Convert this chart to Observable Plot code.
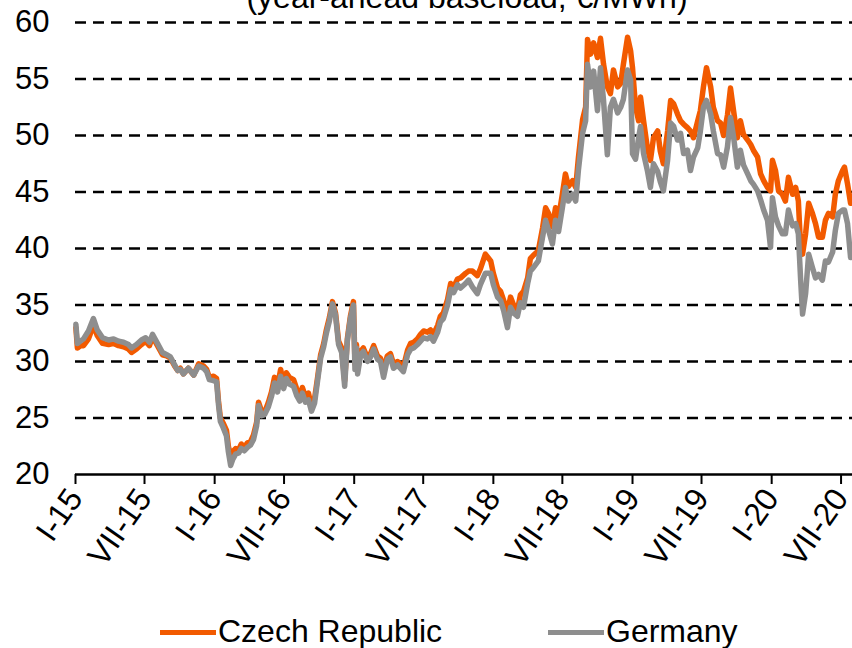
<!DOCTYPE html>
<html>
<head>
<meta charset="utf-8">
<script src="https://cdn.jsdelivr.net/npm/d3@7"></script>
<script src="https://cdn.jsdelivr.net/npm/@observablehq/plot@0.6"></script>
<style>
  html, body { margin: 0; padding: 0; background: #fff; }
  #wrap { position: relative; width: 852px; height: 648px; overflow: hidden; font-family: "Liberation Sans", Arial, sans-serif; color: #000; }
  #title { position: absolute; left: 0; width: 934px; top: -19px; text-align: center; font-size: 32px; line-height: 32px; white-space: nowrap; }
  #chart { position: absolute; left: 0; top: 0; }
  .lg { position: absolute; font-size: 32px; line-height: 32px; white-space: nowrap; }
  .sw { position: absolute; height: 5px; }
</style>
</head>
<body>
<div id="wrap">
  <div id="chart"></div>
  <div id="title">(year-ahead baseload, €/MWh)</div>
  <div id="legend"></div>
</div>
<script>
// ---- data ----
const seriesNames = ["Czech Republic", "Germany"];
const seriesColors = ["#F25A00", "#8E8E8E"];

const dates = [
"2015-01-02","2015-01-06","2015-01-14","2015-01-22","2015-02-04","2015-02-17","2015-02-27","2015-03-13","2015-03-29","2015-04-11",
"2015-04-24","2015-05-07","2015-05-20","2015-05-28","2015-06-10","2015-06-23","2015-07-04","2015-07-14","2015-07-22","2015-08-04",
"2015-08-17","2015-08-28","2015-09-07","2015-09-18","2015-09-26","2015-10-03","2015-10-11","2015-10-24","2015-11-07","2015-11-20",
"2015-12-03","2015-12-11","2015-12-18","2015-12-29","2016-01-06","2016-01-11","2016-01-16","2016-01-24","2016-02-01","2016-02-06",
"2016-02-12","2016-02-17","2016-02-25","2016-03-04","2016-03-11","2016-03-19","2016-03-27","2016-04-04","2016-04-12","2016-04-20",
"2016-04-25","2016-05-03","2016-05-11","2016-05-21","2016-05-29","2016-06-06","2016-06-14","2016-06-22","2016-06-30","2016-07-07",
"2016-07-15","2016-07-26","2016-08-03","2016-08-11","2016-08-18","2016-08-26","2016-09-03","2016-09-11","2016-09-19","2016-09-27",
"2016-10-05","2016-10-13","2016-10-20","2016-10-28","2016-11-05","2016-11-13","2016-11-21","2016-11-29","2016-12-07","2016-12-14",
"2016-12-22","2016-12-30","2017-01-03","2017-01-07","2017-01-10","2017-01-18","2017-01-25","2017-02-05","2017-02-13","2017-02-21",
"2017-03-03","2017-03-11","2017-03-19","2017-03-29","2017-04-06","2017-04-14","2017-04-25","2017-05-02","2017-05-10","2017-05-21",
"2017-05-29","2017-06-06","2017-06-16","2017-06-24","2017-07-02","2017-07-12","2017-07-20","2017-07-28","2017-08-08","2017-08-15",
"2017-08-23","2017-09-03","2017-09-11","2017-09-19","2017-09-29","2017-10-07","2017-10-20","2017-10-28","2017-11-07","2017-11-20",
"2017-11-28","2017-12-11","2017-12-25","2018-01-01","2018-01-12","2018-01-20","2018-01-28","2018-02-07","2018-02-15","2018-02-23",
"2018-03-05","2018-03-13","2018-03-21","2018-04-01","2018-04-08","2018-04-16","2018-04-29","2018-05-10","2018-05-18","2018-05-26",
"2018-06-05","2018-06-13","2018-06-21","2018-07-01","2018-07-09","2018-07-17","2018-07-28","2018-08-05","2018-08-12","2018-08-23",
"2018-08-31","2018-09-05","2018-09-13","2018-09-21","2018-10-01","2018-10-09","2018-10-17","2018-10-27","2018-11-04","2018-11-12",
"2018-11-23","2018-12-01","2018-12-08","2018-12-19","2018-12-27","2019-01-01","2019-01-09","2019-01-17","2019-01-22","2019-01-30",
"2019-02-09","2019-02-17","2019-02-25","2019-03-08","2019-03-15","2019-03-23","2019-04-03","2019-04-11","2019-04-19","2019-04-29",
"2019-05-07","2019-05-15","2019-05-25","2019-06-02","2019-06-10","2019-06-21","2019-06-28","2019-07-06","2019-07-14","2019-07-25",
"2019-08-01","2019-08-12","2019-08-20","2019-08-28","2019-09-07","2019-09-15","2019-09-23","2019-10-03","2019-10-11","2019-10-19",
"2019-10-30","2019-11-07","2019-11-14","2019-11-25","2019-12-03","2019-12-11","2019-12-21","2019-12-29","2020-01-03","2020-01-11",
"2020-01-19","2020-01-29","2020-02-06","2020-02-14","2020-02-25","2020-03-04","2020-03-11","2020-03-17","2020-03-22","2020-03-30",
"2020-04-07","2020-04-17","2020-04-25","2020-05-03","2020-05-13","2020-05-21","2020-05-29","2020-06-09","2020-06-16","2020-06-24",
"2020-07-05","2020-07-10","2020-07-18","2020-07-26"
];

const czechRepublic = [
33.0,31.2,31.4,31.4,32.0,33.2,32.3,31.6,31.5,31.6,
31.4,31.3,31.1,30.8,31.1,31.5,31.8,31.4,32.2,31.4,
30.6,30.5,30.3,29.6,29.2,29.4,28.9,29.4,28.8,29.8,
29.6,29.3,28.6,28.7,28.5,26.5,25.0,24.5,23.9,22.5,
21.6,22.0,22.3,22.2,22.7,22.4,22.8,22.9,23.5,24.6,
26.4,25.6,25.5,26.4,27.3,28.6,27.8,29.3,28.0,29.0,
28.6,28.4,27.6,26.9,27.7,26.9,27.2,26.0,26.7,28.6,
30.6,31.6,32.8,33.9,35.3,34.3,31.8,31.2,28.3,32.0,
34.0,35.3,29.8,31.5,29.3,30.9,31.2,30.3,30.7,31.4,
30.5,30.3,29.3,30.5,30.7,29.8,30.0,29.8,29.5,31.0,
31.6,31.7,32.0,32.4,32.7,32.6,32.8,32.4,33.2,34.0,
34.3,35.5,36.9,36.6,37.3,37.4,37.8,38.0,38.0,37.6,
38.2,39.5,38.9,37.8,36.5,36.2,35.4,34.4,35.7,35.0,
34.5,35.9,36.2,37.4,39.1,39.4,39.8,41.8,43.6,43.1,
41.9,43.6,42.7,44.8,46.6,45.5,46.0,45.4,48.0,51.4,
52.5,58.5,57.2,58.2,56.9,58.6,56.3,54.3,53.7,55.8,
54.3,54.6,56.3,58.7,57.5,56.0,52.5,51.3,53.4,51.3,
48.9,47.8,49.8,50.4,48.6,47.5,50.4,53.1,52.8,51.9,
51.3,51.0,50.7,50.4,49.8,51.3,52.2,54.3,56.0,54.3,
52.5,51.3,51.1,50.0,51.8,54.2,52.2,49.8,51.3,50.1,
49.6,49.2,48.7,48.1,46.6,46.0,45.4,45.1,47.8,46.9,
45.1,44.8,44.2,46.3,44.8,45.4,44.2,40.1,39.5,41.3,
44.0,43.1,42.2,41.0,41.0,42.5,43.1,42.8,44.8,46.0,
46.9,47.2,45.7,44.0
];

const germany = [
33.3,31.6,31.8,32.0,32.7,33.8,32.8,32.1,31.9,32.0,
31.8,31.7,31.5,31.2,31.5,31.9,32.1,31.7,32.4,31.6,
30.8,30.6,30.4,29.7,29.2,29.3,28.9,29.4,28.8,29.6,
29.4,29.1,28.4,28.3,28.2,26.2,24.7,24.1,23.4,22.0,
20.8,21.3,21.8,21.9,22.3,22.1,22.4,22.6,23.1,24.3,
26.1,25.2,25.3,26.0,26.9,28.1,27.3,28.7,27.6,28.5,
28.0,27.8,27.0,26.5,27.2,26.4,26.6,25.6,26.3,28.3,
30.3,31.3,32.5,33.6,35.1,34.1,31.5,30.8,27.8,31.8,
33.8,35.0,29.3,31.2,28.9,30.6,30.9,30.0,30.4,31.1,
30.2,30.0,28.6,30.2,30.4,29.4,29.7,29.4,29.1,30.6,
31.1,31.2,31.5,31.8,32.1,32.0,32.2,31.8,32.6,33.5,
33.8,35.0,36.4,36.1,36.8,36.5,36.9,37.2,36.6,36.0,
36.8,37.8,37.8,36.8,35.7,35.4,34.5,33.0,34.8,34.3,
34.0,35.2,34.8,36.9,38.0,38.3,38.9,41.0,42.5,41.6,
40.4,42.5,41.5,43.6,45.4,44.2,44.8,44.2,46.9,50.2,
51.3,56.3,54.3,55.7,52.2,56.0,53.1,48.3,52.5,53.2,
52.0,52.5,53.2,55.8,54.9,48.4,47.9,49.8,50.8,48.4,
46.9,45.4,47.5,46.8,45.9,45.1,47.8,51.1,50.8,49.6,
50.2,48.4,48.7,46.9,48.1,48.9,50.4,52.5,53.1,51.9,
50.4,48.4,48.3,47.2,49.0,51.6,49.9,47.2,48.7,47.4,
46.6,46.0,45.7,45.1,44.3,43.4,42.5,40.1,44.5,42.8,
42.0,41.3,41.3,43.4,42.0,42.2,41.3,37.2,34.2,36.0,
39.5,38.3,37.4,37.7,37.2,38.9,38.8,39.7,41.6,43.1,
43.4,43.4,42.2,39.2
];

const yTicks = [20, 25, 30, 35, 40, 45, 50, 55, 60];
const gridValues = [25, 30, 35, 40, 45, 50, 55, 60];
const xTickDates = ["2015-01-01","2015-07-01","2016-01-01","2016-07-01","2017-01-01","2017-07-01",
                    "2018-01-01","2018-07-01","2019-01-01","2019-07-01","2020-01-01","2020-07-01"];
const xTickLabels = ["I-15","VII-15","I-16","VII-16","I-17","VII-17","I-18","VII-18","I-19","VII-19","I-20","VII-20"];
const xDomain = ["2015-01-01", "2020-07-31"];
const yDomain = [20, 60];

// ---- build ----
const rows = [];
dates.forEach((d, i) => {
  rows.push({date: new Date(d), value: czechRepublic[i], series: seriesNames[0]});
});
dates.forEach((d, i) => {
  rows.push({date: new Date(d), value: germany[i], series: seriesNames[1]});
});
const tickDates = xTickDates.map(d => new Date(d));
const fmt = d => { const k = tickDates.findIndex(t => +t === +d); return k >= 0 ? xTickLabels[k] : ""; };

const chart = Plot.plot({
  width: 852,
  height: 600,
  marginLeft: 75,
  marginRight: 0,
  marginTop: 22,
  marginBottom: 126,
  style: {fontFamily: "'Liberation Sans', Arial, sans-serif", fontSize: "31px", color: "#000", background: "transparent", overflow: "visible"},
  x: {type: "utc", domain: xDomain.map(d => new Date(d))},
  y: {domain: yDomain},
  color: {domain: seriesNames, range: seriesColors},
  marks: [
    Plot.ruleY(gridValues, {stroke: "#000", strokeWidth: 2.5, strokeDasharray: "11,7"}),
    Plot.axisY({ticks: yTicks, tickSize: 0, tickPadding: 26, label: null, fontSize: 31}),
    Plot.axisX({ticks: tickDates, tickFormat: fmt, tickRotate: -55, tickSize: 10, tickPadding: 8, label: null, fontSize: 32, strokeWidth: 2}),
    Plot.ruleY([yDomain[0]], {stroke: "#000", strokeWidth: 2.5}),
    Plot.lineY(rows, {x: "date", y: "value", z: "series", stroke: "series", strokeWidth: 5.5, strokeLinejoin: "round"})
  ]
});
document.getElementById("chart").appendChild(chart);

// legend
const legend = document.getElementById("legend");
const legendPos = [{sw: 160, tx: 218}, {sw: 548, tx: 606}];
seriesNames.forEach((name, i) => {
  const sw = document.createElement("div");
  sw.className = "sw";
  sw.style.left = legendPos[i].sw + "px";
  sw.style.width = (legendPos[i].tx - legendPos[i].sw - 2) + "px";
  sw.style.top = "630px";
  sw.style.background = seriesColors[i];
  legend.appendChild(sw);
  const t = document.createElement("div");
  t.className = "lg";
  t.style.left = legendPos[i].tx + "px";
  t.style.top = "615px";
  t.textContent = name;
  legend.appendChild(t);
});
</script>
</body>
</html>
